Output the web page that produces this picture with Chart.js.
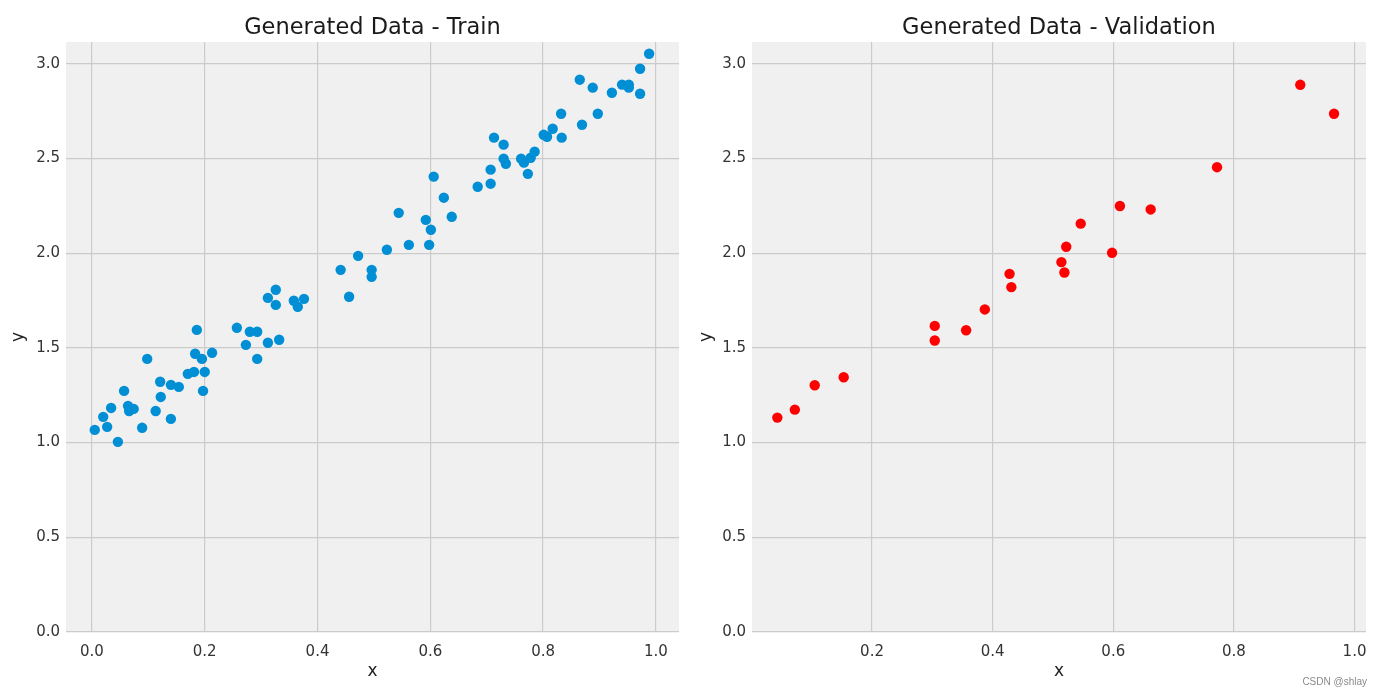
<!DOCTYPE html>
<html>
<head>
<meta charset="utf-8">
<script src="https://cdn.jsdelivr.net/npm/chart.js@4"></script>
<style>
  html, body { margin: 0; padding: 0; background: #ffffff; }
  body { width: 1390px; height: 697px; position: relative; overflow: hidden; }
  .panel { position: absolute; top: 0; width: 695px; height: 697px; }
  #trainWrap { left: 0; }
  #valWrap { left: 695px; }
  .mark { position: absolute; right: 23px; top: 676px; font: 10px "Liberation Sans", sans-serif; color: #8a8a8a; }
</style>
</head>
<body>
<div class="panel" id="trainWrap"><canvas id="trainChart"></canvas></div>
<div class="panel" id="valWrap"><canvas id="valChart"></canvas></div>
<div class="mark">CSDN @shlay</div>
<script>
const trainX = [0.005, 0.020, 0.027, 0.034, 0.046, 0.057, 0.064, 0.066, 0.074, 0.089,
    0.098, 0.113, 0.121, 0.122, 0.140, 0.140, 0.154, 0.170, 0.181, 0.186,
    0.183, 0.195, 0.200, 0.197, 0.213, 0.257, 0.273, 0.280, 0.293, 0.293,
    0.312, 0.332, 0.312, 0.326, 0.326, 0.358, 0.365, 0.376, 0.441, 0.456,
    0.472, 0.496, 0.496, 0.523, 0.544, 0.562, 0.592, 0.598, 0.601, 0.606,
    0.624, 0.638, 0.684, 0.707, 0.707, 0.713, 0.730, 0.730, 0.734, 0.761,
    0.766, 0.773, 0.778, 0.785, 0.801, 0.807, 0.817, 0.832, 0.833, 0.869,
    0.865, 0.888, 0.897, 0.922, 0.940, 0.952, 0.952, 0.972, 0.972, 0.988];
const trainY = [1.067, 1.136, 1.083, 1.183, 1.004, 1.273, 1.194, 1.167, 1.178, 1.078,
    1.442, 1.167, 1.321, 1.241, 1.125, 1.305, 1.294, 1.363, 1.373, 1.595,
    1.469, 1.442, 1.373, 1.273, 1.474, 1.606, 1.516, 1.585, 1.585, 1.442,
    1.527, 1.543, 1.764, 1.807, 1.727, 1.749, 1.717, 1.759, 1.912, 1.770,
    1.986, 1.912, 1.875, 2.018, 2.213, 2.044, 2.176, 2.044, 2.124, 2.404,
    2.293, 2.192, 2.351, 2.367, 2.441, 2.610, 2.573, 2.499, 2.472, 2.499,
    2.478, 2.419, 2.504, 2.536, 2.625, 2.615, 2.657, 2.736, 2.610, 2.678,
    2.916, 2.874, 2.736, 2.847, 2.890, 2.890, 2.874, 2.974, 2.842, 3.053];

const valX = [0.043, 0.072, 0.105, 0.153, 0.304, 0.304, 0.356, 0.387, 0.428, 0.431,
    0.514, 0.519, 0.522, 0.546, 0.598, 0.611, 0.662, 0.772, 0.910, 0.966];
const valY = [1.132, 1.174, 1.303, 1.345, 1.616, 1.539, 1.593, 1.703, 1.891, 1.821,
    1.953, 1.898, 2.034, 2.156, 2.002, 2.249, 2.231, 2.454, 2.889, 2.736];

const trainXTicks = [0.0, 0.2, 0.4, 0.6, 0.8, 1.0];
const valXTicks = [0.2, 0.4, 0.6, 0.8, 1.0];
const yTicks = [0.0, 0.5, 1.0, 1.5, 2.0, 2.5, 3.0];

const gridColor = '#cbcbcb';
const tickColor = '#333333';

// plot background like matplotlib's axes facecolor
const plotBg = {
    id: 'plotBg',
    beforeDraw(chart) {
        const a = chart.chartArea;
        const ctx = chart.ctx;
        ctx.save();
        ctx.fillStyle = '#f0f0f0';
        ctx.fillRect(a.left, a.top, a.right - a.left, a.bottom - a.top);
        ctx.restore();
    }
};

function makeScatter(canvasId, cfg) {
    const ctx = document.getElementById(canvasId).getContext('2d');
    const points = cfg.xs.map((x, i) => ({ x: x, y: cfg.ys[i] }));
    return new Chart(ctx, {
        type: 'scatter',
        data: {
            datasets: [{
                data: points,
                backgroundColor: cfg.color,
                borderWidth: 0,
                pointRadius: 5.2,
                pointHoverRadius: 5.2
            }]
        },
        options: {
            responsive: false,
            animation: false,
            layout: { padding: { left: 0, right: cfg.padRight, top: 0, bottom: 0 } },
            plugins: {
                legend: { display: false },
                tooltip: { enabled: false },
                title: {
                    display: true,
                    text: cfg.title,
                    fullSize: false,
                    color: '#1a1a1a',
                    font: { family: 'DejaVu Sans', size: 22.5, weight: 'normal' },
                    padding: { top: 14.5, bottom: 0.5 }
                }
            },
            scales: {
                x: {
                    type: 'linear',
                    min: cfg.xMin,
                    max: cfg.xMax,
                    afterBuildTicks: s => { s.ticks = cfg.xTicks.map(v => ({ value: v })); },
                    afterFit: s => { s.height = 65; },
                    grid: { color: gridColor, lineWidth: 1.2, drawTicks: false },
                    border: { display: false },
                    ticks: {
                        color: tickColor,
                        autoSkip: false,
                        maxRotation: 0,
                        padding: 11,
                        font: { family: 'DejaVu Sans', size: 15 },
                        callback: v => v.toFixed(1)
                    },
                    title: {
                        display: true,
                        text: 'x',
                        color: '#222222',
                        font: { family: 'DejaVu Sans', size: 17 },
                        padding: { top: 0, bottom: 15 }
                    }
                },
                y: {
                    type: 'linear',
                    min: 0,
                    max: 3.115,
                    afterBuildTicks: s => { s.ticks = yTicks.map(v => ({ value: v })); },
                    afterFit: s => { s.width = cfg.yWidth; },
                    grid: { color: gridColor, lineWidth: 1.2, drawTicks: false },
                    border: { display: false },
                    ticks: {
                        color: tickColor,
                        padding: 6,
                        font: { family: 'DejaVu Sans', size: 15 },
                        callback: v => v.toFixed(1)
                    },
                    title: {
                        display: true,
                        text: 'y',
                        color: '#222222',
                        font: { family: 'DejaVu Sans', size: 17 },
                        padding: { top: cfg.yTitlePad, bottom: 0 }
                    }
                }
            }
        },
        plugins: [plotBg]
    });
}

function sizeCanvas(id) {
    const c = document.getElementById(id);
    c.width = 695;
    c.height = 697;
    c.style.width = '695px';
    c.style.height = '697px';
}
sizeCanvas('trainChart');
sizeCanvas('valChart');

makeScatter('trainChart', {
    xs: trainX, ys: trainY, color: '#008fd5',
    title: 'Generated Data - Train',
    xMin: -0.046, xMax: 1.041, xTicks: trainXTicks,
    yWidth: 66, padRight: 16, yTitlePad: 8
});

makeScatter('valChart', {
    xs: valX, ys: valY, color: '#ff0000',
    title: 'Generated Data - Validation',
    xMin: 0.001, xMax: 1.019, xTicks: valXTicks,
    yWidth: 57, padRight: 24, yTitlePad: 1
});
</script>
</body>
</html>
